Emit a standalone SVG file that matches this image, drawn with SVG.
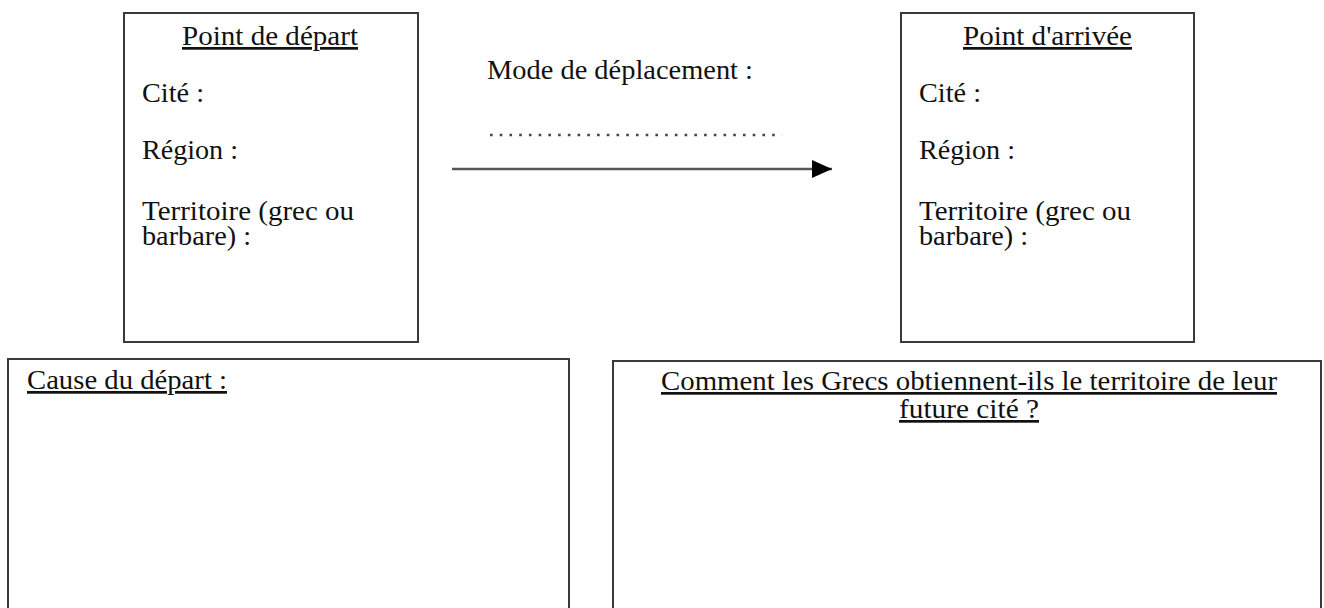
<svg xmlns="http://www.w3.org/2000/svg" width="1324" height="608" viewBox="0 0 1324 608">
<defs>
<marker id="ah" markerWidth="20" markerHeight="18" refX="20" refY="9" orient="auto" markerUnits="userSpaceOnUse">
<path d="M0,0 L20,9 L0,18 Z" fill="#000"/>
</marker>
</defs>
<rect width="1324" height="608" fill="#fff"/>
<g id="depart" font-family="Liberation Serif" font-size="27" fill="#111">
<rect x="124" y="13" width="294" height="329" fill="#fff" stroke="#3a3a3a" stroke-width="2"/>
<text x="270" y="45" text-anchor="middle" text-decoration="underline" textLength="176" lengthAdjust="spacingAndGlyphs">Point de départ</text>
<text x="142" y="102" textLength="62" lengthAdjust="spacingAndGlyphs">Cité :</text>
<text x="142" y="159" textLength="96" lengthAdjust="spacingAndGlyphs">Région :</text>
<text x="142" y="220" textLength="212" lengthAdjust="spacingAndGlyphs">Territoire (grec ou</text>
<text x="142" y="245" textLength="109" lengthAdjust="spacingAndGlyphs">barbare) :</text>
</g>
<g id="arrivee" font-family="Liberation Serif" font-size="27" fill="#111">
<rect x="901" y="13" width="293" height="329" fill="#fff" stroke="#3a3a3a" stroke-width="2"/>
<text x="1047.5" y="45" text-anchor="middle" text-decoration="underline" textLength="169" lengthAdjust="spacingAndGlyphs">Point d'arrivée</text>
<text x="919" y="102" textLength="62" lengthAdjust="spacingAndGlyphs">Cité :</text>
<text x="919" y="159" textLength="96" lengthAdjust="spacingAndGlyphs">Région :</text>
<text x="919" y="220" textLength="212" lengthAdjust="spacingAndGlyphs">Territoire (grec ou</text>
<text x="919" y="245" textLength="109" lengthAdjust="spacingAndGlyphs">barbare) :</text>
</g>
<g id="mode" font-family="Liberation Serif" font-size="27" fill="#111">
<text x="487" y="79" textLength="266" lengthAdjust="spacingAndGlyphs">Mode de déplacement :</text>
<line x1="490" y1="135" x2="782" y2="135" stroke="#444" stroke-width="2.6" stroke-dasharray="2.6 7.13"/>
</g>
<g id="connectors">
<line x1="452" y1="169" x2="832" y2="169" stroke="#555" stroke-width="2.5" marker-end="url(#ah)"/>
</g>
<g id="cause" font-family="Liberation Serif" font-size="27" fill="#111">
<rect x="8" y="359" width="561" height="270" fill="#fff" stroke="#3a3a3a" stroke-width="2"/>
<text x="27" y="389" text-decoration="underline" textLength="200" lengthAdjust="spacingAndGlyphs">Cause du départ :</text>
</g>
<g id="comment" font-family="Liberation Serif" font-size="27" fill="#111">
<rect x="613" y="361" width="708" height="270" fill="#fff" stroke="#3a3a3a" stroke-width="2"/>
<text x="969" y="390" text-anchor="middle" text-decoration="underline" textLength="616" lengthAdjust="spacingAndGlyphs">Comment les Grecs obtiennent-ils le territoire de leur</text>
<text x="969" y="418" text-anchor="middle" text-decoration="underline" textLength="140" lengthAdjust="spacingAndGlyphs">future cité ?</text>
</g>
</svg>
